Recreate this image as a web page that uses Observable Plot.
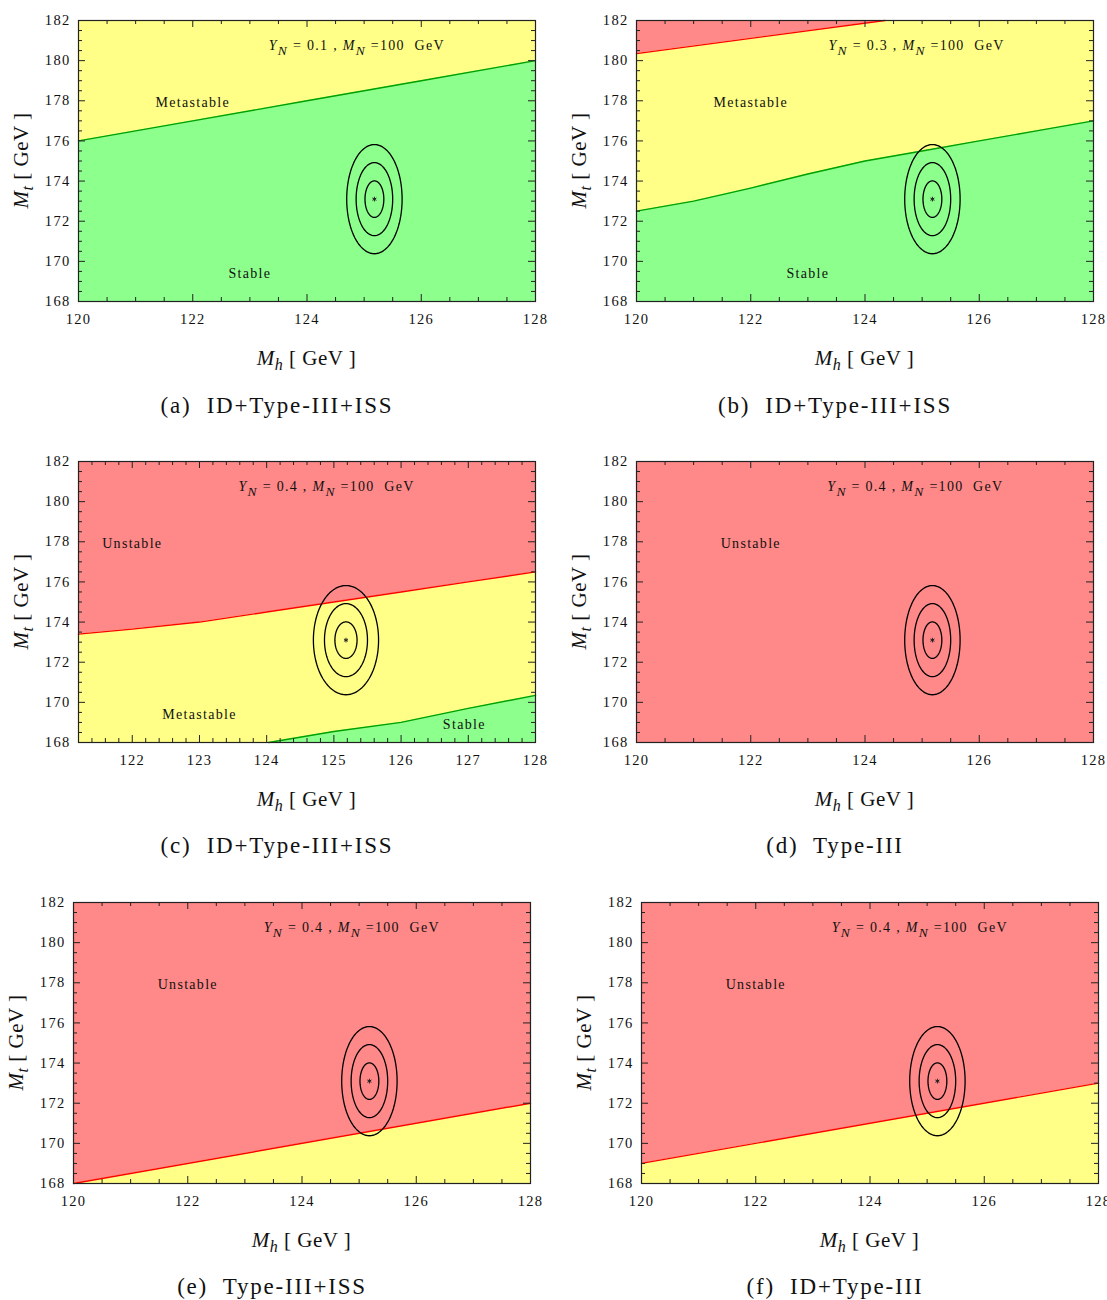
<!DOCTYPE html>
<html><head><meta charset="utf-8">
<script src="https://cdn.jsdelivr.net/npm/d3@7"></script>
<script src="https://cdn.jsdelivr.net/npm/@observablehq/plot@0.6"></script>
<style>
body{margin:0;background:#fff;}
#root{position:relative;width:1107px;height:1300px;overflow:hidden;}
.panel{position:absolute;}
.panel svg{max-width:none !important;}
.panel svg text{letter-spacing:1.3px;}
.cap{position:absolute;font-family:"Liberation Serif","Times New Roman",serif;font-size:23px;letter-spacing:1.8px;line-height:1;white-space:pre;transform:translateX(-50%);color:#111;}
</style></head><body><div id="root"></div>
<script>
// ---------- data ----------
const yTicks = [168,170,172,174,176,178,180,182];
const xTicksWide = [120,122,124,126,128];
const xTicksC = [122,123,124,125,126,127,128];
const captions = ["(a)  ID+Type-III+ISS","(b)  ID+Type-III+ISS","(c)  ID+Type-III+ISS","(d)  Type-III","(e)  Type-III+ISS","(f)  ID+Type-III"];
const yukawa = ["0.1","0.3","0.4","0.4","0.4","0.4"];

// boundaries (Mh, Mt)
const a_stable_mh = [120,122,124,126,128];
const a_stable_mt = [176.0,177.0,178.0,179.0,180.0];
const b_unstable_mh = [120,124.35];
const b_unstable_mt = [180.35,182.0];
const b_stable_mh = [120,121,122,123,124,125,126,127,128];
const b_stable_mt = [172.5,173.0,173.65,174.35,175.0,175.5,176.0,176.5,177.0];
const c_unstable_mh = [121.2,122,123,124,125,126,127,128];
const c_unstable_mt = [173.4,173.65,174.0,174.5,175.0,175.5,176.0,176.5];
const c_stable_mh = [124.03,125,126,127,128];
const c_stable_mt = [168.0,168.55,169.0,169.7,170.35];
const e_unstable_mh = [120,128];
const e_unstable_mt = [168.0,172.0];
const f_unstable_mh = [120,128];
const f_unstable_mt = [169.0,173.0];

// experimental fit: centre and 1/2/3 sigma half-axes
const fitMh = 125.18, fitMt = 173.1;
const sigmaMh = [0.165,0.32,0.485];
const sigmaMt = [0.91,1.82,2.72];

// region labels
const labelsA = [{x:122.0,y:177.9,t:"Metastable"},{x:123.0,y:169.4,t:"Stable"}];
const labelsB = [{x:122.0,y:177.9,t:"Metastable"},{x:123.0,y:169.4,t:"Stable"}];
const labelsC = [{x:122.0,y:177.9,t:"Unstable"},{x:123.0,y:169.4,t:"Metastable"},{x:126.94,y:168.9,t:"Stable"}];
const labelsD = [{x:122.0,y:177.9,t:"Unstable"}];
const labelsE = [{x:122.0,y:177.9,t:"Unstable"}];
const labelsF = [{x:122.0,y:177.9,t:"Unstable"}];

const YELLOW="#ffff88", GREEN="#8cff8c", RED="#ff8888", GREEN_LINE="#00a000", RED_LINE="#ff0000";
const zip = (xs, ys) => xs.map((x,i)=>({x, y: ys[i]}));

const panels = [
  {frame:[78,535,20,301], dom:[120,128], ticks:xTicksWide, minor:0.5, bg:YELLOW, stable:zip(a_stable_mh,a_stable_mt), unstable:null, labels:labelsA, annotX:123.33, capX:277, capY:406},
  {frame:[636,1093,20,301], dom:[120,128], ticks:xTicksWide, minor:0.5, bg:YELLOW, stable:zip(b_stable_mh,b_stable_mt), unstable:zip(b_unstable_mh,b_unstable_mt), labels:labelsB, annotX:123.36, capX:835, capY:406},
  {frame:[78,535,461,742], dom:[121.2,128], ticks:xTicksC, minor:0.2, bg:YELLOW, stable:zip(c_stable_mh,c_stable_mt), unstable:zip(c_unstable_mh,c_unstable_mt), labels:labelsC, annotX:123.58, capX:277, capY:846},
  {frame:[636,1093,461,742], dom:[120,128], ticks:xTicksWide, minor:0.5, bg:RED, stable:null, unstable:null, labels:labelsD, annotX:123.34, capX:835, capY:846},
  {frame:[73,530,902,1183], dom:[120,128], ticks:xTicksWide, minor:0.5, bg:YELLOW, stable:null, unstable:zip(e_unstable_mh,e_unstable_mt), labels:labelsE, annotX:123.33, capX:272, capY:1287},
  {frame:[641,1098,902,1183], dom:[120,128], ticks:xTicksWide, minor:0.5, bg:YELLOW, stable:null, unstable:zip(f_unstable_mh,f_unstable_mt), labels:labelsF, annotX:123.33, capX:835, capY:1287}
];

// contour ellipses (geometry from centre and half-axes)
const ellipse = [];
sigmaMh.forEach((sx,k)=>{
  for(let i=0;i<=96;i++){
    const a = 2*Math.PI*i/96;
    ellipse.push({k, x: fitMh + sx*Math.cos(a), y: fitMt + sigmaMt[k]*Math.sin(a)});
  }
});

const FONT = '"Liberation Serif","Times New Roman",serif';
const root = document.getElementById("root");

function richText(sel, parts, subSize){
  sel.text(null);
  parts.forEach(p=>{
    const ts = sel.append("tspan").text(p.t);
    if(p.i) ts.attr("font-style","italic");
    if(p.sub){ ts.attr("dy", p.sub).attr("font-size", subSize); }
    if(p.up){ ts.attr("dy", -p.up); }
  });
}

panels.forEach((p, idx)=>{
  const [L,R,T,B] = p.frame;
  const W = R-L, H = B-T;
  const mL=78, mT=20, mR=24, mB=84;
  const width = mL+W+mR, height = mT+H+mB;
  const [x0,x1] = p.dom;
  const kx = (x1-x0)/W, ky = 14/H;
  const yMinor = d3.range(168,182.001,0.5).filter(v=>!yTicks.includes(v));
  const xMinor = d3.range(Math.ceil(x0/p.minor)*p.minor,x1+1e-6,p.minor).map(v=>Math.round(v*100)/100).filter(v=>!p.ticks.includes(v));
  const xMajor = p.ticks;
  const marks = [Plot.frame({fill:p.bg})];
  if(p.stable){
    marks.push(Plot.areaY(p.stable,{x:"x",y1:168,y2:"y",fill:GREEN}));
  }
  if(p.unstable){
    marks.push(Plot.areaY(p.unstable,{x:"x",y1:"y",y2:182,fill:RED}));
  }
  if(p.stable) marks.push(Plot.line(p.stable,{x:"x",y:"y",stroke:GREEN_LINE,strokeWidth:1.4}));
  if(p.unstable) marks.push(Plot.line(p.unstable,{x:"x",y:"y",stroke:RED_LINE,strokeWidth:1.4}));
  marks.push(Plot.line(ellipse,{x:"x",y:"y",z:"k",stroke:"#000",strokeWidth:1.3}));
  marks.push(Plot.dot([{x:fitMh,y:fitMt}],{x:"x",y:"y",symbol:"asterisk",r:2.2,stroke:"#222",strokeWidth:1}));
  marks.push(Plot.text(p.labels,{x:"x",y:"y",text:"t",fontSize:14,fill:"#111"}));
  marks.push(Plot.text([{x:p.annotX,y:180.75,t:"annot"}],{x:"x",y:"y",text:"t",textAnchor:"start",fontSize:14,fill:"#111",ariaLabel:d=>"annot"}));
  // inward frame ticks
  const tk = "#222";
  marks.push(Plot.ruleX(xMajor,{y1:168,y2:168+7*ky,stroke:tk}));
  marks.push(Plot.ruleX(xMajor,{y1:182-7*ky,y2:182,stroke:tk}));
  marks.push(Plot.ruleX(xMinor,{y1:168,y2:168+4*ky,stroke:tk}));
  marks.push(Plot.ruleX(xMinor,{y1:182-4*ky,y2:182,stroke:tk}));
  marks.push(Plot.ruleY(yTicks,{x1:x0,x2:x0+7*kx,stroke:tk}));
  marks.push(Plot.ruleY(yTicks,{x1:x1-7*kx,x2:x1,stroke:tk}));
  marks.push(Plot.ruleY(yMinor,{x1:x0,x2:x0+4*kx,stroke:tk}));
  marks.push(Plot.ruleY(yMinor,{x1:x1-4*kx,x2:x1,stroke:tk}));
  marks.push(Plot.frame({stroke:"#222",strokeWidth:1.2}));

  const svg = Plot.plot({
    width, height, marginLeft:mL, marginRight:mR, marginTop:mT, marginBottom:mB,
    x:{domain:p.dom, ticks:xMajor, tickSize:0, tickPadding:12, label:null, tickFormat:d=>String(d)},
    y:{domain:[168,182], ticks:yTicks, tickSize:0, tickPadding:8, label:null, tickFormat:d=>String(d)},
    style:{fontFamily:FONT, fontSize:"14.5px", color:"#111", background:"transparent", overflow:"visible", maxWidth:"none"},
    marks
  });
  svg.style.maxWidth = "none";
  const s = d3.select(svg);
  // annotation with subscripts
  s.selectAll('text[aria-label="annot"]').each(function(){
    const t = d3.select(this).style("white-space","pre").style("letter-spacing","1.3px");
    richText(t,[{t:"Y",i:1},{t:"N",i:1,sub:5},{t:" = "+yukawa[idx]+" , ",up:5},{t:"M",i:1},{t:"N",i:1,sub:5},{t:" =100  GeV",up:5}],"13.5px");
  });
  // axis titles
  const xt = s.append("text").attr("x",mL+W/2).attr("y",mT+H+64).attr("text-anchor","middle")
    .attr("font-size",21).attr("fill","#111").style("white-space","pre").style("letter-spacing","0.5px").attr("font-family",FONT);
  richText(xt,[{t:"M",i:1},{t:"h",i:1,sub:5},{t:" [ GeV ]",up:5}],"16px");
  const yt = s.append("text").attr("transform",`translate(${mL-50},${mT+H/2}) rotate(-90)`).attr("text-anchor","middle")
    .attr("font-size",21).attr("fill","#111").style("white-space","pre").style("letter-spacing","0.5px").attr("font-family",FONT);
  richText(yt,[{t:"M",i:1},{t:"t",i:1,sub:5},{t:" [ GeV ]",up:5}],"16px");

  const div = document.createElement("div");
  div.className = "panel";
  div.style.left = (L-mL)+"px";
  div.style.top = (T-mT)+"px";
  div.style.width = width+"px";
  div.style.height = height+"px";
  div.appendChild(svg);
  root.appendChild(div);

  const cap = document.createElement("div");
  cap.className = "cap";
  cap.textContent = captions[idx];
  cap.style.left = p.capX+"px";
  cap.style.top = (p.capY-12)+"px";
  root.appendChild(cap);
});
</script></body></html>
